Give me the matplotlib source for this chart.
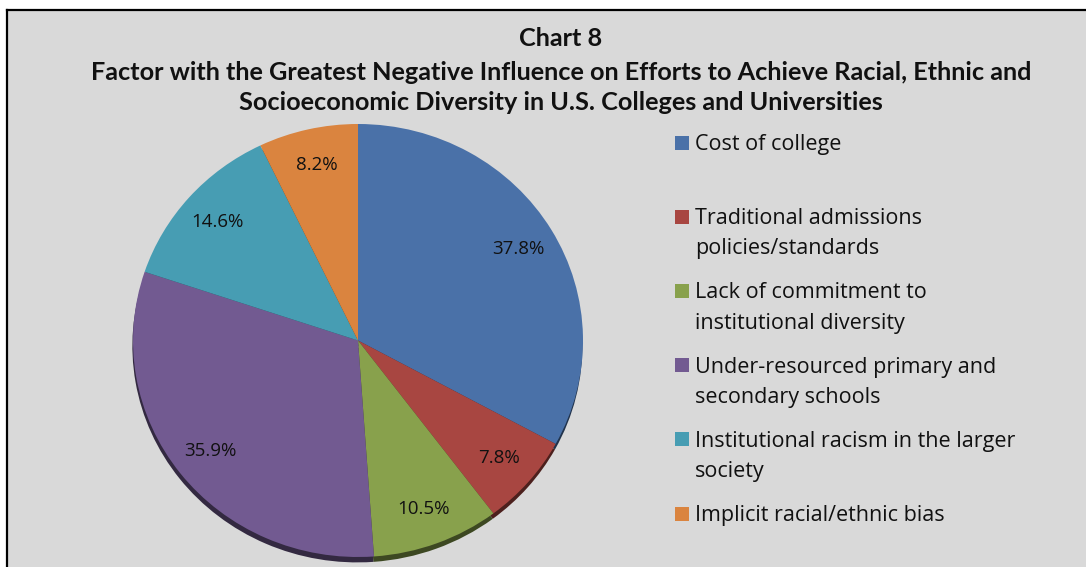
import matplotlib
matplotlib.use("Agg")
import matplotlib.pyplot as plt
from matplotlib.patches import Rectangle
from matplotlib.lines import Line2D

categories = [
    "Cost of college",
    "Traditional admissions\npolicies/standards",
    "Lack of commitment to\ninstitutional diversity",
    "Under-resourced primary and\nsecondary schools",
    "Institutional racism in the larger\nsociety",
    "Implicit racial/ethnic bias",
]
values = [37.8, 7.8, 10.5, 35.9, 14.6, 8.2]
colors = ["#4A71A8", "#A84641", "#88A14C", "#725A91", "#479DB3", "#DA843F"]
title_lines = [
    "Chart 8",
    "Factor with the Greatest Negative Influence on Efforts to Achieve Racial, Ethnic and",
    "Socioeconomic Diversity in U.S. Colleges and Universities",
]

W, H = 1086, 567
fig = plt.figure(figsize=(W / 100, H / 100), dpi=100, facecolor="white")

def fx(px):
    return px / W

def fy(py):
    return 1 - py / H

# background panel and border
fig.add_artist(Rectangle((fx(7), 0), 1, fy(10), transform=fig.transFigure,
                         facecolor="#D9D9D9", edgecolor="none", zorder=0))
fig.add_artist(Line2D([fx(7), fx(7)], [0, fy(10)], transform=fig.transFigure,
                      color="black", lw=1.6, zorder=1))
fig.add_artist(Line2D([fx(7), 1], [fy(10), fy(10)], transform=fig.transFigure,
                      color="black", lw=1.6, zorder=1))

# title
title_y = [38, 72, 102]
for t, y in zip(title_lines, title_y):
    fig.text(fx(561), fy(y), t, ha="center", va="center", fontsize=18.2,
             fontweight="bold", family="Lato", color="#111111")

# pie
ax = fig.add_axes([fx(133), fy(557), fx(450), 433 / H])
it = iter(values)
wedges, texts, autotexts = ax.pie(
    values, colors=colors, startangle=90, counterclock=False,
    autopct=lambda p: f"{next(it):.1f}%", pctdistance=0.83,
    shadow={"ox": -0.002, "oy": -0.018, "shade": 0.55, "alpha": 1.0},
    wedgeprops={"linewidth": 0},
    textprops={"fontsize": 13.5, "family": "Open Sans", "color": "#111111"},
)
ax.set_aspect("auto")
ax.set_xlim(-1, 1)
ax.set_ylim(-1, 1)
ax.axis("off")

# legend
legend_y = [143, 217, 291, 365, 439, 514]
for lab, col, y in zip(categories, colors, legend_y):
    fig.add_artist(Rectangle((fx(675), fy(y + 7)), fx(14), 14 / H,
                             transform=fig.transFigure, facecolor=col,
                             edgecolor="none"))
    for k, line in enumerate(lab.split("\n")):
        fig.text(fx(695), fy(y + 2 + 30 * k), line, ha="left", va="center",
                 fontsize=15.5, family="Open Sans", color="#111111")

fig.savefig("out.png", dpi=100, facecolor="white")
